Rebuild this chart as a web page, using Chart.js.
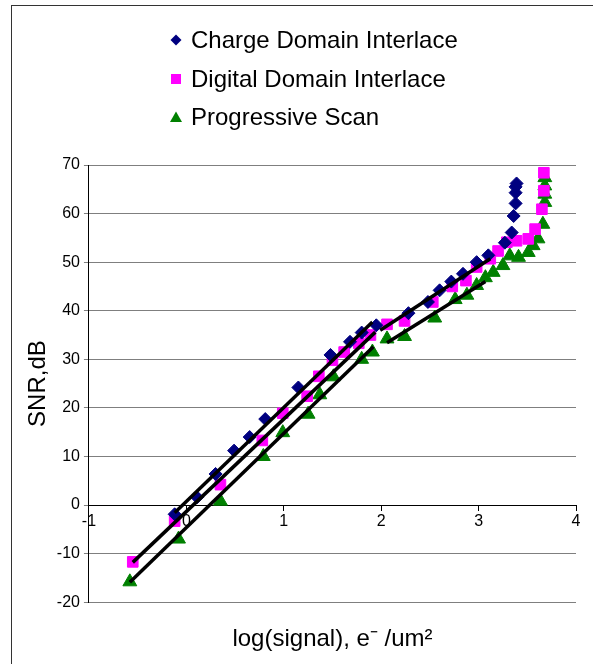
<!DOCTYPE html>
<html>
<head>
<meta charset="utf-8">
<script src="https://cdn.jsdelivr.net/npm/chart.js@4.4.1/dist/chart.umd.min.js"></script>
<style>
  html, body { margin: 0; padding: 0; background: #fff; }
  #wrap { position: relative; width: 593px; height: 664px; overflow: hidden; }
  #frame { position: absolute; left: 11px; top: 5px; width: 600px; height: 700px; border: 1px solid #333; box-sizing: border-box; }
  #chart { position: absolute; left: 0; top: 0; }
  #legend { position: absolute; left: 168px; top: 21px; font-family: "Liberation Sans", Arial, sans-serif; font-size: 24px; color: #000; }
  #legend div { height: 38.5px; display: flex; align-items: center; }
  #legend svg { width: 16px; height: 16px; margin-right: 7px; }
</style>
</head>
<body>
<div id="wrap">
  <div id="frame"></div>
  <canvas id="chart" width="593" height="664"></canvas>
  <div id="legend"></div>
</div>
<script>
'use strict';

const LABELS = ['Charge Domain Interlace', 'Digital Domain Interlace', 'Progressive Scan'];
const X_TICKS = [-1, 0, 1, 2, 3, 4];
const Y_TICKS = [-20, -10, 0, 10, 20, 30, 40, 50, 60, 70];

// [log(signal), SNR dB]
const chargeData = [
    [-0.12, -1.9], [0.11, 1.6], [0.30, 6.4], [0.49, 11.2], [0.65, 14], [0.81, 17.7],
    [1.15, 24.2], [1.48, 30.9], [1.68, 33.6], [1.80, 35.5], [1.95, 37], [2.28, 39.5],
    [2.48, 41.8], [2.60, 44.2], [2.72, 46], [2.84, 47.6], [2.98, 50], [3.10, 51.4],
    [3.27, 54], [3.34, 56.1], [3.36, 59.5], [3.38, 62.1], [3.38, 64.3], [3.38, 65.5], [3.39, 66.2]
];
const digitalData = [
    [-0.55, -11.7], [-0.12, -3.3], [0.35, 4.2], [0.78, 13.3], [0.99, 18.9], [1.24, 22.4],
    [1.36, 26.5], [1.50, 29.8], [1.62, 31.5], [1.77, 33.3], [1.89, 35], [2.06, 37.2],
    [2.24, 37.9], [2.53, 41.8], [2.73, 45], [2.87, 46.2], [2.98, 49], [3.12, 50.7],
    [3.20, 52.3], [3.29, 54.1], [3.39, 54.4], [3.51, 54.8], [3.58, 56.8], [3.65, 60.9],
    [3.67, 64.7], [3.67, 68.4]
];
const progressiveData = [
    [-0.58, -15.8], [-0.08, -7], [0.35, 0.8], [0.79, 10], [0.99, 14.9], [1.25, 18.7],
    [1.37, 22.7], [1.51, 26.4], [1.80, 30], [1.91, 31.5], [2.06, 34.2], [2.24, 34.7],
    [2.55, 38.5], [2.76, 42.3], [2.88, 43.2], [2.98, 45.2], [3.07, 46.8], [3.15, 47.9],
    [3.25, 49.3], [3.32, 51.3], [3.41, 51], [3.51, 52], [3.56, 53.4], [3.61, 54.8],
    [3.66, 57.8], [3.68, 62.3], [3.68, 64], [3.68, 65.7], [3.68, 67.4]
];

// fitted lines, two end points each
const chargeFit = [[-0.12, -1.6], [1.91, 37.7]];
const digitalFit = [[-0.55, -11.8], [1.94, 35.6]];
const progressiveFit = [[-0.58, -15.9], [1.92, 32.6]];
const upperHighFit = [[1.99, 36.0], [3.12, 50.7]];
const lowerHighFit = [[2.06, 33.4], [3.07, 46.0]];

const FONT = '"Liberation Sans", Arial, sans-serif';

function toPoints(arr) {
    return arr.map(function (p) { return { x: p[0], y: p[1] }; });
}

function scatterSet(label, data, style, color, radius) {
    return {
        type: 'scatter',
        label: label,
        data: toPoints(data),
        pointStyle: style,
        pointRadius: radius,
        pointHoverRadius: radius,
        backgroundColor: color,
        borderColor: color,
        borderWidth: 1,
        order: 2
    };
}

function fitSet(data) {
    return {
        type: 'line',
        label: 'fit',
        data: toPoints(data),
        borderColor: '#000',
        borderWidth: 3.5,
        pointRadius: 0,
        fill: false,
        order: 1
    };
}

const datasets = [
    scatterSet(LABELS[0], chargeData, 'rectRot', '#000080', 6.5),
    scatterSet(LABELS[1], digitalData, 'rect', '#FF00FF', 7.5),
    scatterSet(LABELS[2], progressiveData, 'triangle', '#008000', 8),
    fitSet(chargeFit),
    fitSet(digitalFit),
    fitSet(progressiveFit),
    fitSet(upperHighFit),
    fitSet(lowerHighFit)
];

// html legend, one entry per row
const MARKS = [
    '<svg viewBox="0 0 16 16"><polygon points="8,2.5 13.5,8 8,13.5 2.5,8" fill="#000080"/></svg>',
    '<svg viewBox="0 0 16 16"><rect x="3" y="3" width="10" height="10" fill="#FF00FF"/></svg>',
    '<svg viewBox="0 0 16 16"><polygon points="8,2.5 14,13 2,13" fill="#008000"/></svg>'
];
document.getElementById('legend').innerHTML = LABELS.map(function (l, i) {
    return '<div>' + MARKS[i] + '<span>' + l + '</span></div>';
}).join('');

Chart.defaults.font.family = FONT;
Chart.defaults.color = '#000';

new Chart(document.getElementById('chart'), {
    type: 'scatter',
    data: { datasets: datasets },
    options: {
        responsive: false,
        animation: false,
        layout: { padding: { left: 14, top: 165, right: 17, bottom: 2 } },
        plugins: {
            legend: { display: false },
            tooltip: { enabled: false },
            title: {
                display: true,
                position: 'bottom',
                fullSize: false,
                text: 'log(signal), e\u207B /um\u00B2',
                font: { size: 24, weight: 'normal' },
                color: '#000',
                padding: { top: 23, bottom: 8 }
            }
        },
        scales: {
            x: {
                type: 'linear',
                position: { y: 0 },
                min: X_TICKS[0],
                max: X_TICKS[X_TICKS.length - 1],
                afterBuildTicks: function (axis) {
                    axis.ticks = X_TICKS.map(function (v) { return { value: v }; });
                },
                grid: { drawOnChartArea: false, drawTicks: true, tickLength: 5, color: '#000' },
                border: { display: true, color: '#000', width: 1 },
                ticks: { font: { size: 16 }, color: '#000', padding: 2 }
            },
            y: {
                type: 'linear',
                min: Y_TICKS[0],
                max: Y_TICKS[Y_TICKS.length - 1],
                afterBuildTicks: function (axis) {
                    axis.ticks = Y_TICKS.map(function (v) { return { value: v }; });
                },
                grid: { color: '#7f7f7f', tickLength: 5, lineWidth: 1 },
                border: { display: true, color: '#000', width: 1 },
                ticks: { font: { size: 16 }, color: '#000', padding: 4 },
                title: {
                    display: true,
                    text: 'SNR,dB',
                    font: { size: 24 },
                    color: '#000',
                    padding: { top: 10, bottom: 0 }
                }
            }
        }
    }
});
</script>
</body>
</html>
